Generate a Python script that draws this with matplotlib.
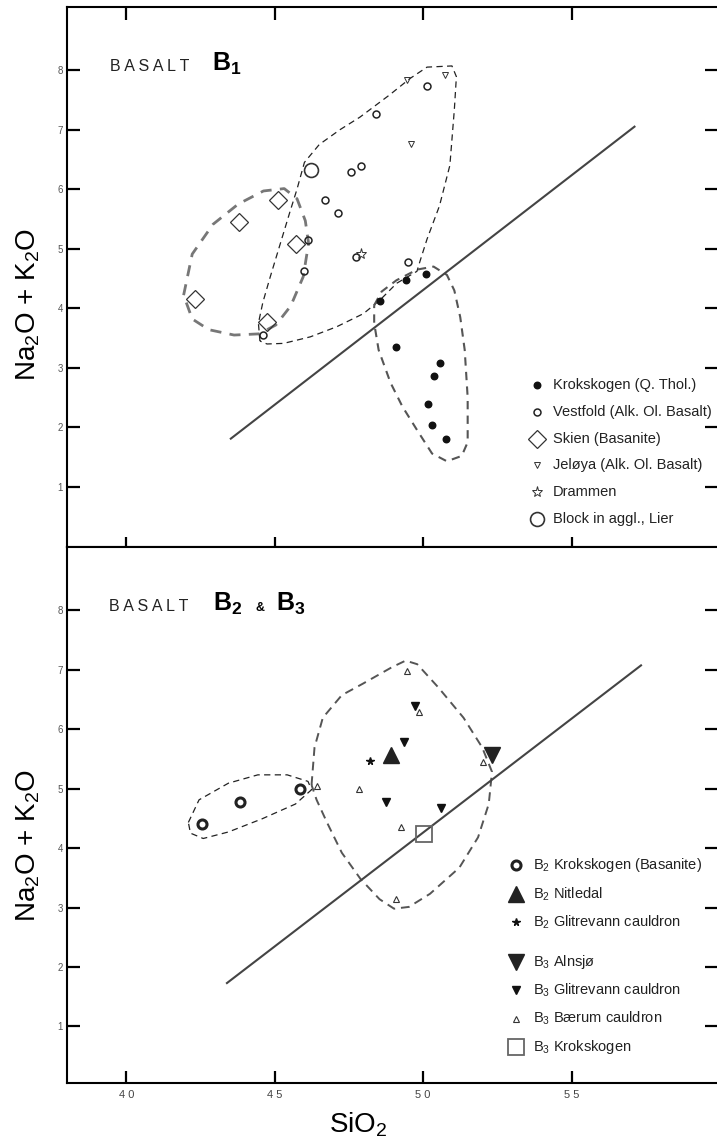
import matplotlib
matplotlib.use('Agg')
import matplotlib.pyplot as plt
from matplotlib import font_manager
import numpy as np

# fonts: Helvetica-like for labels, narrow face for the legend if it exists
names = {f.name for f in font_manager.fontManager.ttflist}
SANS = 'Liberation Sans'
NARROW = 'Liberation Sans Narrow' if 'Liberation Sans Narrow' in names else 'Liberation Sans'
LEG_FS = 11.5 if NARROW == 'Liberation Sans Narrow' else 10.5
plt.rcParams['font.family'] = [SANS, 'DejaVu Sans']
plt.rcParams['mathtext.default'] = 'regular'

# ---------------- data: basalt B1 (top panel) ----------------
krok_si = [50.08, 49.42, 48.56, 49.08, 50.57, 50.38, 50.16, 50.30, 50.78]
krok_alk = [4.58, 4.48, 4.13, 3.35, 3.08, 2.87, 2.40, 2.04, 1.81]
vest_si = [50.14, 48.40, 47.58, 47.91, 46.69, 47.12, 46.13, 46.00, 47.73, 49.49, 44.62]
vest_alk = [7.74, 7.27, 6.29, 6.39, 5.81, 5.60, 5.15, 4.63, 4.86, 4.78, 3.55]
skien_si = [42.30, 43.81, 45.11, 45.72, 44.75]
skien_alk = [4.16, 5.45, 5.81, 5.08, 3.77]
jel_si = [49.44, 50.73, 49.58]
jel_alk = [7.84, 7.91, 6.76]
dram_si = [47.91]
dram_alk = [4.91]
lier_si = [46.21]
lier_alk = [6.33]

# envelopes, top panel
env_skien_si = [41.93, 42.22, 42.92, 43.77, 44.62, 45.32, 45.75, 46.03, 46.14, 45.96,
                45.54, 45.04, 44.48, 43.63, 42.78, 42.22]
env_skien_alk = [4.22, 4.91, 5.41, 5.75, 5.97, 6.01, 5.84, 5.47, 5.09, 4.53,
                 4.04, 3.72, 3.57, 3.55, 3.64, 3.82]
env_vest_si = [44.50, 44.45, 44.60, 44.85, 45.19, 45.50, 45.75, 46.00, 46.50, 47.20,
               47.87, 48.86, 49.56, 50.13, 50.97, 51.12, 51.05, 50.90, 50.55, 50.13,
               49.90, 49.79, 49.11, 48.55, 47.99, 47.09, 46.20, 45.30, 44.74]
env_vest_alk = [3.45, 3.75, 4.10, 4.53, 5.09, 5.60, 6.00, 6.45, 6.75, 7.00,
                7.21, 7.58, 7.86, 8.05, 8.07, 7.89, 7.33, 6.40, 5.72, 5.16,
                4.80, 4.62, 4.42, 4.14, 3.91, 3.69, 3.52, 3.41, 3.40]
env_krok_si = [48.35, 48.60, 49.10, 49.80, 50.35, 50.80, 51.05, 51.25, 51.40, 51.50,
               51.50, 51.30, 50.80, 50.30, 49.80, 49.30, 48.90, 48.50, 48.35]
env_krok_alk = [4.05, 4.28, 4.47, 4.65, 4.70, 4.56, 4.30, 3.85, 3.30, 2.50,
                1.75, 1.52, 1.43, 1.56, 1.95, 2.35, 2.75, 3.30, 3.75]
line1_si = [43.52, 57.12]
line1_alk = [1.81, 7.05]

# ---------------- data: basalt B2 & B3 (bottom panel) ----------------
b2krok_si = [42.55, 43.82, 45.85]
b2krok_alk = [4.41, 4.77, 4.99]
b2nit_si = [48.92]
b2nit_alk = [5.56]
b2glit_si = [48.22]
b2glit_alk = [5.46]
b3aln_si = [52.32]
b3aln_alk = [5.56]
b3glit_si = [49.74, 49.37, 48.75, 50.59]
b3glit_alk = [6.38, 5.78, 4.77, 4.68]
b3baer_si = [49.47, 49.85, 52.00, 46.44, 47.83, 49.24, 49.10]
b3baer_alk = [6.97, 6.28, 5.44, 5.05, 4.99, 4.35, 3.14]
b3krok_si = [50.03]
b3krok_alk = [4.24]

env_b2_si = [42.09, 42.45, 43.44, 44.43, 45.42, 46.12, 46.24, 45.70, 44.57, 43.44, 42.59, 42.16]
env_b2_alk = [4.43, 4.81, 5.09, 5.23, 5.23, 5.12, 4.98, 4.74, 4.49, 4.27, 4.16, 4.25]
env_b3_si = [46.24, 46.34, 46.62, 47.26, 47.96, 48.95, 49.41, 49.80, 50.51, 51.36, 51.99,
             52.32, 52.21, 51.85, 51.22, 50.23, 49.52, 49.02, 48.53, 47.89, 47.26, 46.76, 46.41]
env_b3_alk = [5.06, 5.69, 6.19, 6.57, 6.76, 7.04, 7.15, 7.09, 6.70, 6.19, 5.69,
              5.28, 4.74, 4.18, 3.67, 3.23, 3.01, 2.98, 3.14, 3.48, 3.92, 4.43, 4.81]
line2_si = [43.39, 57.34]
line2_alk = [1.73, 7.07]

xticks = [40, 45, 50, 55]
xtick_labels = ['4 0', '4 5', '5 0', '5 5']
yticks = [1, 2, 3, 4, 5, 6, 7, 8]

fig = plt.figure(figsize=(7.17, 11.47), dpi=100)
ax1 = fig.add_axes([0.0934, 0.5231, 0.9066, 0.4708])
ax2 = fig.add_axes([0.0934, 0.0558, 0.9066, 0.4673])

for ax in (ax1, ax2):
    ax.set_xlim(38.0, 59.9)
    ax.set_xticks(xticks)
    ax.set_yticks(yticks)
    ax.spines['right'].set_visible(False)
    for s in ('left', 'top', 'bottom'):
        ax.spines[s].set_linewidth(1.5)
    ax.tick_params(axis='y', which='both', left=True, right=True, direction='in',
                   length=9, width=1.6, labelsize=7, labelcolor='#555555', pad=3)
ax1.set_ylim(-0.01, 9.06)
ax2.set_ylim(0.05, 9.06)

ax1.tick_params(axis='x', top=True, bottom=True, direction='inout', length=14, width=1.6,
                labelbottom=False)
ax2.tick_params(axis='x', top=False, bottom=True, direction='in', length=9, width=1.6,
                labelsize=8, labelcolor='#444444', pad=5)
ax2.set_xticklabels(xtick_labels)
# top ticks of the upper panel point inward
for t in ax1.xaxis.get_major_ticks():
    t.tick2line.set_markersize(9)
    t.tick2line.set_marker(3)

dash_thin = dict(color='#222222', lw=0.9, ls=(0, (5, 3.5)))
dash_thick = dict(color='#777777', lw=2.0, ls=(0, (4, 3)))


def envelope(ax, xs, ys, style):
    ax.plot(xs + xs[:1], ys + ys[:1], **style)


# ---------------- top panel ----------------
envelope(ax1, env_skien_si, env_skien_alk, dash_thick)
envelope(ax1, env_vest_si, env_vest_alk, dash_thin)
envelope(ax1, env_krok_si, env_krok_alk, dict(color='#555555', lw=1.5, ls=(0, (4, 3))))
ax1.plot(line1_si, line1_alk, color='#444444', lw=1.5)

top_series = [
    (krok_si, krok_alk, dict(marker='o', ms=4.7, mfc='#111111', mec='#111111'),
     'Krokskogen (Q. Thol.)'),
    (vest_si, vest_alk, dict(marker='o', ms=5, mfc='none', mec='#222222', mew=1.1),
     'Vestfold (Alk. Ol. Basalt)'),
    (skien_si, skien_alk, dict(marker='D', ms=9.5, mfc='none', mec='#333333', mew=0.9),
     'Skien (Basanite)'),
    (jel_si, jel_alk, dict(marker='v', ms=5, mfc='none', mec='#333333', mew=0.7),
     'Jeløya (Alk. Ol. Basalt)'),
    (dram_si, dram_alk, dict(marker='*', ms=8, mfc='none', mec='#333333', mew=0.7),
     'Drammen'),
    (lier_si, lier_alk, dict(marker='o', ms=10, mfc='none', mec='#333333', mew=1.2),
     'Block in aggl., Lier'),
]
for i, (xs, ys, st, lab) in enumerate(top_series):
    ax1.plot(xs, ys, ls='none', **st)
    yy = 2.71 - i * 0.45
    ax1.plot([53.84], [yy], ls='none', clip_on=False, **st)
    ax1.text(54.38, yy, lab, fontsize=LEG_FS, family=NARROW, va='center', ha='left',
             color='#222222')

ax1.text(39.46, 7.98, 'B A S A L T', fontsize=11.5, ha='left', va='baseline', color='#222222')
ax1.text(42.9, 7.98, 'B$_1$', fontsize=18, fontweight='bold', ha='left', va='baseline')
ax1.text(-0.06, 4.06, 'Na$_2$O + K$_2$O', transform=ax1.get_yaxis_transform(),
         rotation=90, fontsize=20, ha='center', va='center')

# ---------------- bottom panel ----------------
envelope(ax2, env_b2_si, env_b2_alk, dash_thin)
envelope(ax2, env_b3_si, env_b3_alk, dict(color='#555555', lw=1.4, ls=(0, (4.5, 3))))
ax2.plot(line2_si, line2_alk, color='#444444', lw=1.5)

bot_series = [
    (b2krok_si, b2krok_alk, dict(marker='o', ms=6.5, mfc='white', mec='#222222', mew=2.2),
     'B$_2$ Krokskogen (Basanite)'),
    (b2nit_si, b2nit_alk, dict(marker='^', ms=11, mfc='#222222', mec='#222222'),
     'B$_2$ Nitledal'),
    (b2glit_si, b2glit_alk, dict(marker='*', ms=5.5, mfc='#111111', mec='#111111'),
     'B$_2$ Glitrevann cauldron'),
    (b3aln_si, b3aln_alk, dict(marker='v', ms=11, mfc='#222222', mec='#222222'),
     'B$_3$ Alnsjø'),
    (b3glit_si, b3glit_alk, dict(marker='v', ms=5.5, mfc='#111111', mec='#111111'),
     'B$_3$ Glitrevann cauldron'),
    (b3baer_si, b3baer_alk, dict(marker='^', ms=5, mfc='none', mec='#333333', mew=0.8),
     'B$_3$ Bærum cauldron'),
    (b3krok_si, b3krok_alk, dict(marker='s', ms=11, mfc='none', mec='#666666', mew=1.3),
     'B$_3$ Krokskogen'),
]
row_y = 3.71
for i, (xs, ys, st, lab) in enumerate(bot_series):
    ax2.plot(xs, ys, ls='none', **st)
    if i == 3:
        row_y -= 0.18  # gap between B2 and B3 groups
    ax2.plot([53.13], [row_y], ls='none', clip_on=False, **st)
    ax2.text(53.70, row_y, lab, fontsize=LEG_FS, family=NARROW, va='center', ha='left',
             color='#222222')
    row_y -= 0.48

ax2.text(39.4, 7.99, 'B A S A L T', fontsize=11.5, ha='left', va='baseline', color='#222222')
ax2.text(42.93, 7.99, 'B$_2$', fontsize=18, fontweight='bold', ha='left', va='baseline')
ax2.text(44.35, 7.99, '&', fontsize=9, fontweight='bold', ha='left', va='baseline')
ax2.text(45.05, 7.99, 'B$_3$', fontsize=18, fontweight='bold', ha='left', va='baseline')
ax2.text(-0.06, 4.05, 'Na$_2$O + K$_2$O', transform=ax2.get_yaxis_transform(),
         rotation=90, fontsize=20, ha='center', va='center')
ax2.text(47.8, -0.093, 'SiO$_2$', transform=ax2.get_xaxis_transform(),
         fontsize=20, ha='center', va='baseline')

fig.savefig('out.png', dpi=100)
